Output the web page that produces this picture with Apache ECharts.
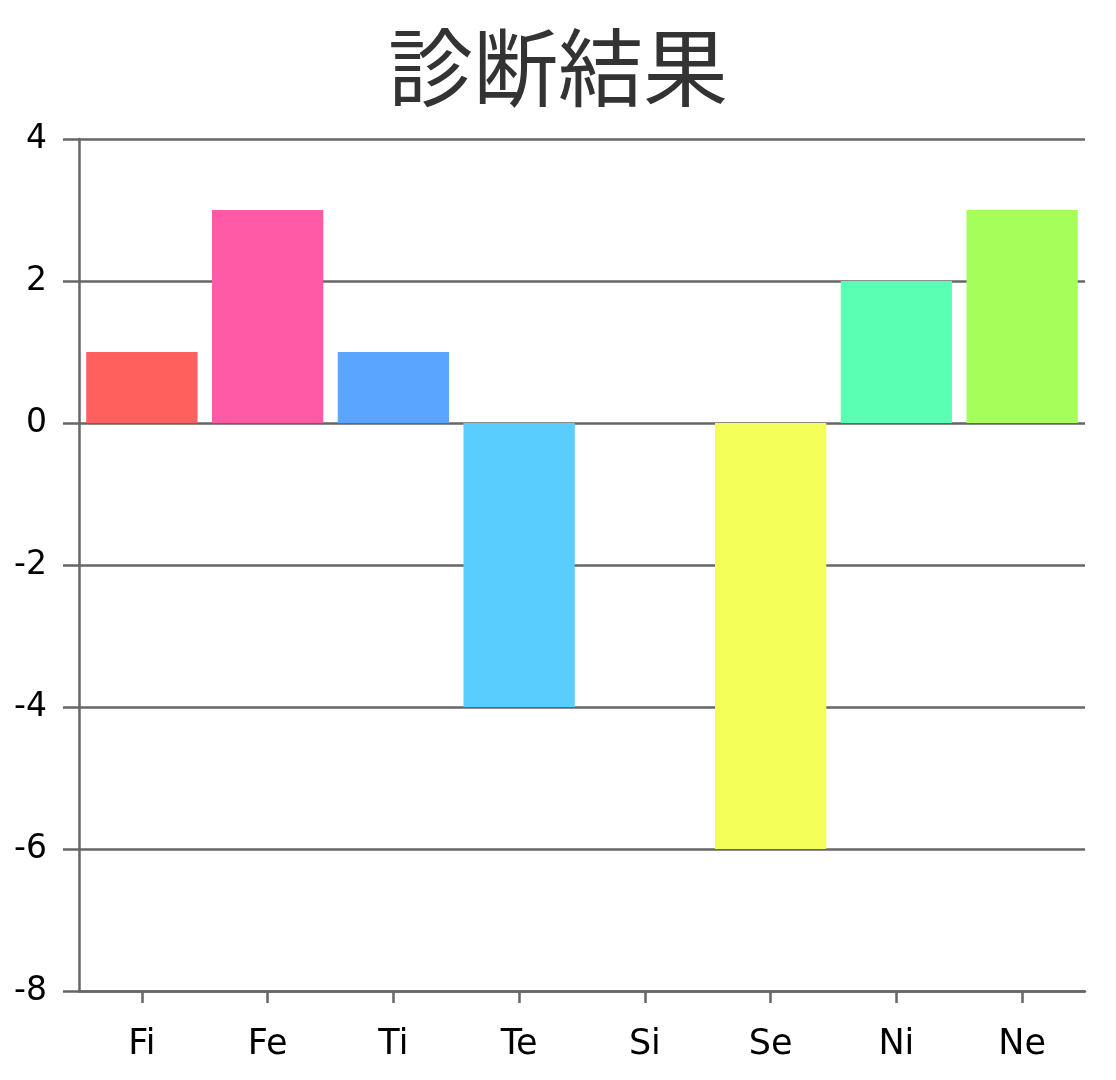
<!DOCTYPE html>
<html>
<head>
<meta charset="utf-8">
<script src="https://cdn.jsdelivr.net/npm/echarts@6/dist/echarts.min.js"></script>
<style>
html,body{margin:0;padding:0;background:#fff;}
#chart{width:1116px;height:1080px;}
</style>
</head>
<body>
<div id="chart"></div>
<script>
var titleText = '診断結果';
var categories = ['Fi', 'Fe', 'Ti', 'Te', 'Si', 'Se', 'Ni', 'Ne'];
var values = [1, 3, 1, -4, 0, -6, 2, 3];
var barColors = ['#FF605D', '#FF5AA5', '#5AA5FF', '#5ACDFF', '#FFD25A', '#F5FF5A', '#5AFFB4', '#A5FF5A'];
var yMin = -8, yMax = 4, yInterval = 2;

var chart = echarts.init(document.getElementById('chart'), null, {renderer: 'canvas'});
var axisColor = '#666666';
chart.setOption({
  animation: false,
  backgroundColor: '#ffffff',
  title: {
    text: titleText,
    left: 'center',
    top: 20,
    textStyle: {fontFamily: 'Noto Sans CJK JP', fontSize: 85, fontWeight: 'normal', color: '#333333'}
  },
  grid: {left: 79, right: 31, top: 139, bottom: 89, containLabel: false},
  xAxis: {
    type: 'category',
    data: categories,
    axisLine: {show: true, onZero: false, lineStyle: {color: axisColor, width: 2.5}},
    axisTick: {show: true, alignWithLabel: true, length: 12, lineStyle: {color: axisColor, width: 2.5}},
    axisLabel: {margin: 36, fontFamily: 'DejaVu Sans', fontSize: 35, color: '#000000'},
    splitLine: {show: false}
  },
  yAxis: {
    type: 'value',
    min: yMin, max: yMax, interval: yInterval,
    axisLine: {show: true, lineStyle: {color: axisColor, width: 2.5}},
    axisTick: {show: true, length: 16, lineStyle: {color: axisColor, width: 2.5}},
    axisLabel: {margin: 32, fontFamily: 'DejaVu Sans', fontSize: 33, color: '#000000', padding: [6, 0, 0, 0]},
    splitLine: {show: true, lineStyle: {color: axisColor, width: 2.5}}
  },
  series: [{
    type: 'bar',
    data: values.map(function (v, i) { return {value: v, itemStyle: {color: barColors[i]}}; }),
    barCategoryGap: '11.5%',
    z: 1
  }]
});
</script>
</body>
</html>
